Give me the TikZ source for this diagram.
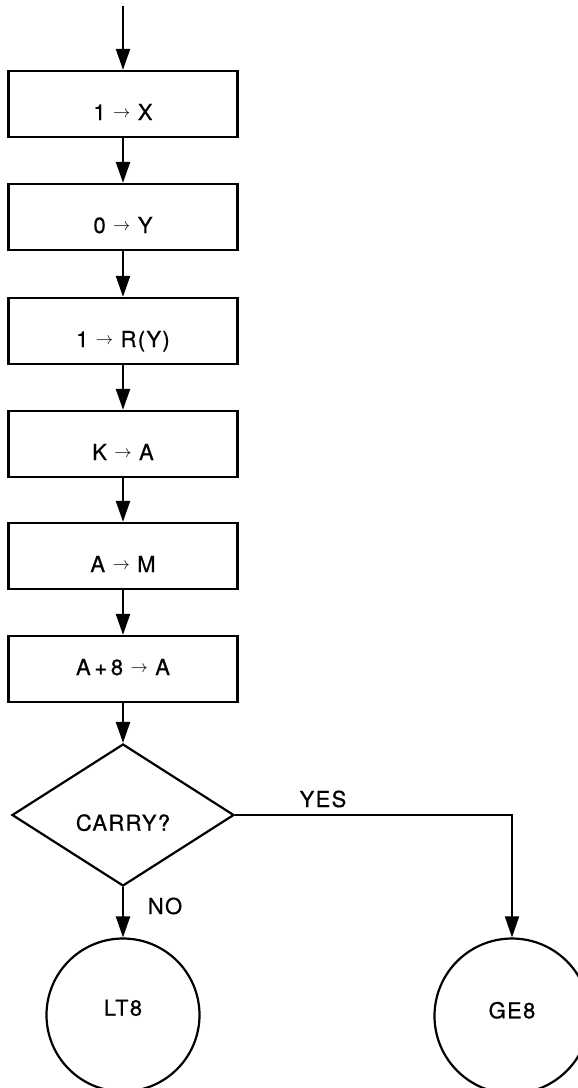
\documentclass[tikz,border=0pt]{standalone}
\usepackage{fontspec}
\setmainfont{TeX Gyre Heros}[LetterSpace=6,FakeBold=0.6]
\usetikzlibrary{shapes.geometric,arrows.meta}
\newcommand{\ra}{{\fontsize{17}{17}\selectfont\raisebox{3pt}{$\rightarrow$}}}
\begin{document}
\begin{tikzpicture}[x=1pt,y=-1pt,
  every node/.style={font=\fontsize{22}{26}\selectfont},
  box/.style={draw, line width=2.3pt, rectangle, minimum width=229pt, inner sep=0pt, text height=49pt, text depth=17pt},
  decision/.style={draw, diamond, line width=2.2pt, minimum width=222pt, minimum height=142pt, inner sep=0pt, text height=32pt, text depth=0.6pt},
  term/.style={draw, circle, line width=2.2pt, minimum size=153pt, inner sep=0pt},
  arr/.style={line width=2.3pt, -{Triangle[length=21pt,width=14pt]}},
  lbl/.style={anchor=base, inner sep=0pt}]
\useasboundingbox (0,0) rectangle (578,1088);
\coordinate (start) at (123,6);
\node[box] (b1) at (123,104) {1 \ra{} X};
\node[box] (b2) at (123,217) {0 \ra{} Y};
\node[box] (b3) at (123,331) {1 \ra{} R(Y)};
\node[box] (b4) at (123,444) {K \ra{} A};
\node[box] (b5) at (123,556) {A \ra{} M};
\node[box, text height=39pt, text depth=27pt] (b6) at (123,669) {A\,+\,8 \ra{} A};
\node[decision] (dec) at (123,815) {CARRY?};
\node[term, text height=8pt, text depth=6.6pt] (lt) at (123,1015) {LT8};
\node[term, text height=8pt, text depth=3.4pt, minimum size=155pt] (ge) at (512,1016) {GE8};
\node[lbl] (yes) at (323,807) {YES};
\node[lbl] (no) at (165,914) {NO};
\draw[arr] (start) -- (b1);
\draw[arr] (b1) -- (b2);
\draw[arr] (b2) -- (b3);
\draw[arr] (b3) -- (b4);
\draw[arr] (b4) -- (b5);
\draw[arr] (b5) -- (b6);
\draw[arr] (b6) -- (dec);
\draw[arr] (dec) -- (lt);
\draw[arr, line width=1.8pt] (dec.east) -| (ge);
\end{tikzpicture}
\end{document}
